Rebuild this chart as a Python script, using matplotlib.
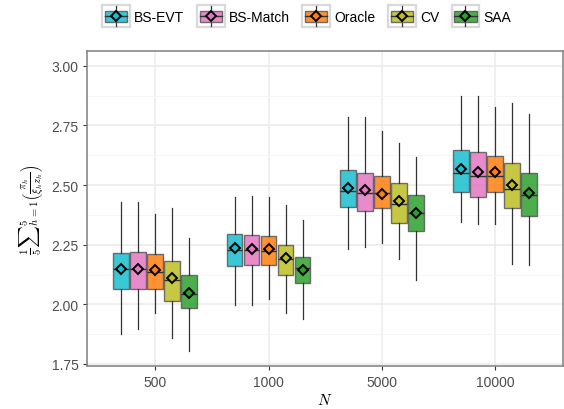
import numpy as np
import matplotlib
matplotlib.use("Agg")
import matplotlib.pyplot as plt
from matplotlib.patches import Patch, Rectangle
from matplotlib.lines import Line2D

# datos (cajas por metodo y por N)
n_labels = ["500", "1000", "5000", "10000"]
methods = ["BS-EVT", "BS-Match", "Oracle", "CV", "SAA"]
colores = ["#17becf", "#e377c2", "#ff7f0e", "#bcbd22", "#2ca02c"]

whislo = {"BS-EVT": [1.877, 1.997, 2.231, 2.346],
          "BS-Match": [1.895, 1.997, 2.241, 2.335],
          "Oracle": [1.962, 2.021, 2.258, 2.335],
          "CV": [1.860, 1.965, 2.192, 2.171],
          "SAA": [1.804, 1.940, 2.100, 2.165]}
q1 = {"BS-EVT": [2.063, 2.161, 2.409, 2.469],
      "BS-Match": [2.064, 2.164, 2.391, 2.450],
      "Oracle": [2.064, 2.167, 2.403, 2.471],
      "CV": [2.016, 2.125, 2.343, 2.402],
      "SAA": [1.983, 2.090, 2.307, 2.371]}
med = {"BS-EVT": [2.150, 2.228, 2.476, 2.550],
       "BS-Match": [2.150, 2.228, 2.468, 2.539],
       "Oracle": [2.136, 2.223, 2.465, 2.539],
       "CV": [2.100, 2.192, 2.419, 2.482],
       "SAA": [2.042, 2.154, 2.382, 2.459]}
q3 = {"BS-EVT": [2.214, 2.294, 2.562, 2.646],
      "BS-Match": [2.220, 2.290, 2.550, 2.640],
      "Oracle": [2.211, 2.287, 2.537, 2.621],
      "CV": [2.182, 2.247, 2.510, 2.591],
      "SAA": [2.122, 2.200, 2.459, 2.552]}
whishi = {"BS-EVT": [2.430, 2.451, 2.786, 2.873],
          "BS-Match": [2.430, 2.455, 2.786, 2.873],
          "Oracle": [2.378, 2.448, 2.727, 2.826],
          "CV": [2.403, 2.416, 2.675, 2.845],
          "SAA": [2.276, 2.353, 2.616, 2.797]}
media = {"BS-EVT": [2.150, 2.235, 2.486, 2.566],
         "BS-Match": [2.150, 2.234, 2.479, 2.553],
         "Oracle": [2.142, 2.234, 2.461, 2.553],
         "CV": [2.111, 2.196, 2.432, 2.499],
         "SAA": [2.049, 2.146, 2.381, 2.465]}

plt.rcParams["font.family"] = "Liberation Sans"
plt.rcParams["mathtext.fontset"] = "cm"

gris_borde = "#595959"
alfa = 0.85


class CajaLeyenda:
    """dibuja la llave de la leyenda al estilo ggplot (marco gris, bigote, caja, mediana, diamante)"""
    def __init__(self, color):
        self.color = color

    def legend_artist(self, legend, orig_handle, fontsize, handlebox):
        x0, y0 = -handlebox.xdescent, -handlebox.ydescent
        w, h = handlebox.width, handlebox.height
        t = handlebox.get_transform()
        marco = Rectangle((x0, y0), w, h, facecolor="white", edgecolor="#d9d9d9",
                          linewidth=1.6, transform=t)
        bigote = Line2D([x0 + w / 2, x0 + w / 2], [y0 + 0.5, y0 + h - 0.5], color="#333333",
                        linewidth=0.9, transform=t)
        caja = Rectangle((x0 + 0.1 * w, y0 + 0.25 * h), 0.8 * w, 0.5 * h, facecolor=self.color,
                         alpha=alfa, edgecolor=gris_borde, linewidth=1.0, transform=t)
        mediana = Line2D([x0 + 0.1 * w, x0 + 0.9 * w], [y0 + h / 2, y0 + h / 2], color="#333333",
                         linewidth=1.0, transform=t)
        diamante = Line2D([x0 + w / 2], [y0 + h / 2], ls="none", marker="D", ms=5, mfc=self.color,
                          mec="black", mew=1.4, transform=t)
        for a in [marco, bigote, caja, mediana, diamante]:
            handlebox.add_artist(a)
        return caja


fig = plt.figure(figsize=(5.64, 4.10), dpi=100)
ax = fig.add_axes([0.155, 0.104, 0.843, 0.768])

x = np.arange(len(n_labels))
ancho = 0.15
handles = []
mapa = {}
for i, m in enumerate(methods):
    stats = []
    for j in range(len(n_labels)):
        stats.append({"whislo": whislo[m][j], "q1": q1[m][j], "med": med[m][j],
                      "q3": q3[m][j], "whishi": whishi[m][j], "mean": media[m][j],
                      "fliers": []})
    pos = x + (i - 2) * ancho
    bp = ax.bxp(stats, positions=pos, widths=ancho * 0.93, patch_artist=True,
                showmeans=False, showcaps=False, manage_ticks=False,
                boxprops=dict(facecolor=colores[i], alpha=alfa, edgecolor=gris_borde, linewidth=1.0),
                whiskerprops=dict(color="#333333", linewidth=0.9),
                medianprops=dict(color="#333333", linewidth=1.0))
    for b in bp["boxes"]:
        b.set_edgecolor(gris_borde)
    ax.plot(pos, media[m], ls="none", marker="D", ms=5.5, mfc=colores[i],
            mec="black", mew=1.4, zorder=5)
    h = Patch(facecolor=colores[i])
    handles.append(h)
    mapa[h] = CajaLeyenda(colores[i])

ax.set_xlim(-0.6, 3.6)
ax.set_ylim(1.740, 3.060)
ax.set_xticks(x)
ax.set_xticklabels(n_labels)
ax.set_yticks([1.75, 2.00, 2.25, 2.50, 2.75, 3.00])
ax.set_yticks([1.875, 2.125, 2.375, 2.625, 2.875], minor=True)
ax.yaxis.set_major_formatter(matplotlib.ticker.FormatStrFormatter("%.2f"))
ax.grid(True, which="major", color="#ebebeb", linewidth=1.1, zorder=0)
ax.grid(True, which="minor", axis="y", color="#f4f4f4", linewidth=0.6, zorder=0)
ax.set_axisbelow(True)
ax.tick_params(which="major", colors="#333333", labelcolor="#4d4d4d", labelsize=10, length=3)
ax.tick_params(which="minor", length=0)
for s in ax.spines.values():
    s.set_color("#7f7f7f")
    s.set_linewidth(1.1)

ax.set_xlabel("$N$", fontsize=11, labelpad=2)
ax.set_ylabel(r"$\frac{1}{5}{\sum}_{h=1}^{5}\left(\frac{\pi_h}{\xi_h z_h}\right)$", fontsize=11, labelpad=4)

fig.legend(handles, methods, handler_map=mapa,
           loc="center", bbox_to_anchor=(0.544, 0.958), ncol=5, frameon=False,
           fontsize=10, handlelength=2.0, handleheight=2.0, columnspacing=0.9,
           handletextpad=0.3)

fig.savefig("out.png", dpi=100)
